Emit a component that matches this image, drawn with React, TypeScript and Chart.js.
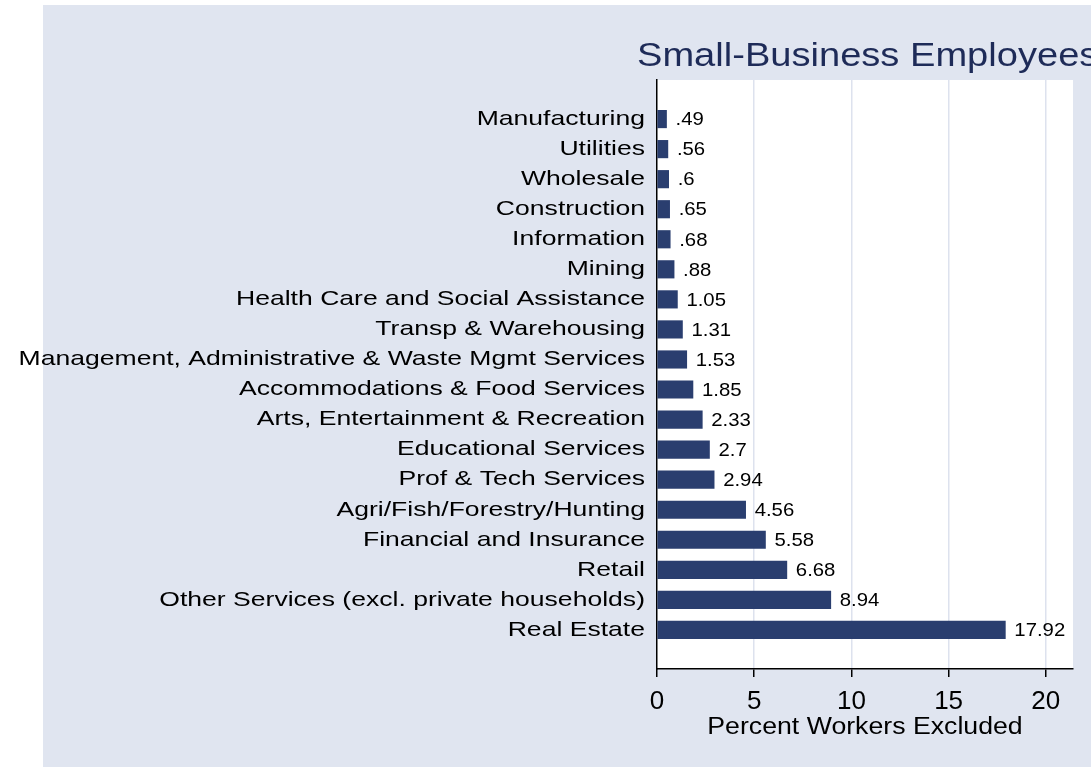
import React, { useEffect, useRef } from 'react';
import { Chart, registerables } from 'chart.js';

Chart.register(...registerables);

const categories = [
  'Manufacturing',
  'Utilities',
  'Wholesale',
  'Construction',
  'Information',
  'Mining',
  'Health Care and Social Assistance',
  'Transp & Warehousing',
  'Management, Administrative & Waste Mgmt Services',
  'Accommodations & Food Services',
  'Arts, Entertainment & Recreation',
  'Educational Services',
  'Prof & Tech Services',
  'Agri/Fish/Forestry/Hunting',
  'Financial and Insurance',
  'Retail',
  'Other Services (excl. private households)',
  'Real Estate',
];

const values = [
  0.49, 0.56, 0.6, 0.65, 0.68, 0.88, 1.05, 1.31, 1.53, 1.85, 2.33, 2.7, 2.94, 4.56, 5.58, 6.68, 8.94, 17.92,
];

const xTickValues = [0, 5, 10, 15, 20];

const chartTitle = 'Small-Business Employees';
const xAxisTitle = 'Percent Workers Excluded';

const FONT = '"Liberation Sans", Arial, Helvetica, sans-serif';

// horizontal glyph stretch per font size (the reference text is rendered wide)
const stretchBySize: Record<string, number> = {
  '21px': 1.265,
  '19px': 1.07,
  '23px': 1.16,
  '34px': 1.12,
};

const fmt = (v: number) => String(v).replace(/^0\./, '.');

export default function App() {
  const ref = useRef<HTMLCanvasElement>(null);

  useEffect(() => {
    const canvas = ref.current;
    if (!canvas) return;
    const c2d = canvas.getContext('2d') as any;
    const origFill = c2d.fillText.bind(c2d);
    c2d.fillText = (text: string, x: number, y: number, maxWidth?: number) => {
      const m = /(\d+(?:\.\d+)?px)/.exec(c2d.font);
      const sx = m ? stretchBySize[m[1]] || 1 : 1;
      if (sx === 1) {
        if (maxWidth === undefined) origFill(text, x, y);
        else origFill(text, x, y, maxWidth);
        return;
      }
      c2d.save();
      c2d.translate(x, y);
      c2d.scale(sx, 1);
      origFill(text, 0, 0);
      c2d.restore();
    };

    const bgPlugin = {
      id: 'bg',
      beforeDraw(chart: any) {
        const { ctx, chartArea: a, width, height } = chart;
        ctx.save();
        ctx.fillStyle = '#ffffff';
        ctx.fillRect(0, 0, width, height);
        ctx.fillStyle = '#e0e5f0';
        ctx.fillRect(43, 5, width - 43, height - 5);
        ctx.fillStyle = '#ffffff';
        ctx.fillRect(a.left, a.top, a.right - a.left, a.bottom - a.top);
        ctx.font = `34px ${FONT}`;
        ctx.fillStyle = '#1e2b58';
        ctx.textAlign = 'left';
        ctx.textBaseline = 'alphabetic';
        ctx.fillText(chartTitle, 637, 66);
        ctx.restore();
      },
    };

    const valueLabelPlugin = {
      id: 'valueLabels',
      afterDatasetsDraw(chart: any) {
        const { ctx } = chart;
        const xs = chart.scales.x;
        const ys = chart.scales.y;
        ctx.save();
        ctx.font = `19px ${FONT}`;
        ctx.fillStyle = '#000000';
        ctx.textAlign = 'left';
        ctx.textBaseline = 'middle';
        values.forEach((v, i) => {
          ctx.fillText(fmt(v), xs.getPixelForValue(v) + 9, ys.getPixelForValue(i) + 1);
        });
        ctx.restore();
      },
    };

    const chart = new Chart(canvas, {
      type: 'bar',
      data: {
        datasets: [
          {
            data: values.map((v, i) => ({ x: v, y: i })),
            backgroundColor: '#2a3e6f',
            borderWidth: 0,
            barThickness: 17.5,
          },
        ],
      },
      options: {
        indexAxis: 'y',
        responsive: false,
        maintainAspectRatio: false,
        animation: false,
        devicePixelRatio: 1,
        layout: { padding: { top: 80, right: 18, left: 0, bottom: 0 } },
        plugins: {
          legend: { display: false },
          tooltip: { enabled: false },
          title: { display: false },
        },
        scales: {
          x: {
            type: 'linear',
            min: 0,
            max: 21.4,
            afterBuildTicks: (s: any) => {
              s.ticks = xTickValues.map((v) => ({ value: v }));
            },
            afterFit: (s: any) => {
              s.height = 98;
            },
            ticks: {
              font: { family: FONT, size: 26 },
              color: '#000000',
              padding: 9,
              autoSkip: false,
              maxRotation: 0,
            },
            grid: {
              color: (c: any) => (c.tick && c.tick.value === 0 ? 'rgba(0,0,0,0)' : '#dde2ee'),
              lineWidth: 1.5,
              drawTicks: true,
              tickLength: 8,
              tickColor: '#000000',
              tickWidth: 1.5,
            },
            border: { display: true, color: '#000000', width: 1.5 },
            title: {
              display: true,
              text: xAxisTitle,
              font: { family: FONT, size: 23 },
              color: '#000000',
              padding: { top: 0, bottom: 26 },
            },
          },
          y: {
            type: 'linear',
            reverse: true,
            offset: false,
            min: -1.3,
            max: 18.3,
            afterBuildTicks: (s: any) => {
              s.ticks = categories.map((_, i) => ({ value: i }));
            },
            afterFit: (s: any) => {
              s.width = 657;
            },
            ticks: {
              callback: (v: any) => categories[v as number],
              font: { family: FONT, size: 21 },
              color: '#000000',
              padding: 12,
              autoSkip: false,
            },
            grid: { display: true, offset: false, color: 'rgba(0,0,0,0)', drawTicks: false },
            border: { display: true, color: '#000000', width: 1.5 },
          },
        },
      },
      plugins: [bgPlugin, valueLabelPlugin],
    } as any);

    return () => {
      chart.destroy();
      c2d.fillText = origFill;
    };
  }, []);

  return (
    <div style={{ position: 'absolute', left: 0, top: 0, width: 1091, height: 767 }}>
      <canvas ref={ref} width={1091} height={767} />
    </div>
  );
}
